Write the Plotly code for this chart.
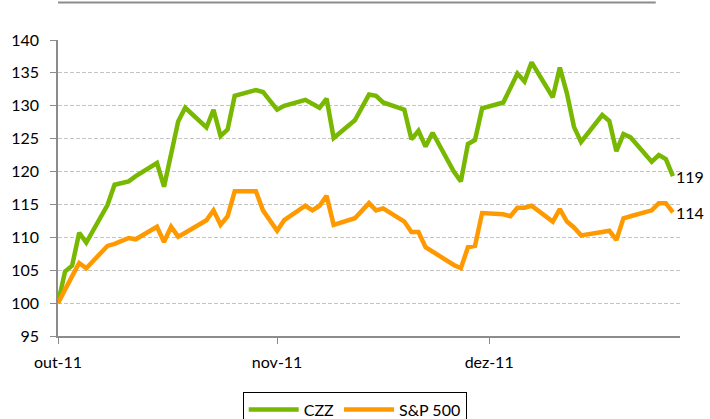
import plotly.graph_objects as go

# trading days (Brazilian calendar, Oct 3 - Dec 29 2011)
dates = [
    "2011-10-03", "2011-10-04", "2011-10-05", "2011-10-06", "2011-10-07",
    "2011-10-10", "2011-10-11", "2011-10-13", "2011-10-14",
    "2011-10-17", "2011-10-18", "2011-10-19", "2011-10-20", "2011-10-21",
    "2011-10-24", "2011-10-25", "2011-10-26", "2011-10-27", "2011-10-28",
    "2011-10-31", "2011-11-01", "2011-11-03", "2011-11-04",
    "2011-11-07", "2011-11-08", "2011-11-09", "2011-11-10", "2011-11-11",
    "2011-11-14", "2011-11-16", "2011-11-17", "2011-11-18",
    "2011-11-21", "2011-11-22", "2011-11-23", "2011-11-24", "2011-11-25",
    "2011-11-28", "2011-11-29", "2011-11-30", "2011-12-01", "2011-12-02",
    "2011-12-05", "2011-12-06", "2011-12-07", "2011-12-08", "2011-12-09",
    "2011-12-12", "2011-12-13", "2011-12-14", "2011-12-15", "2011-12-16",
    "2011-12-19", "2011-12-20", "2011-12-21", "2011-12-22", "2011-12-23",
    "2011-12-26", "2011-12-27", "2011-12-28", "2011-12-29",
]

czz = [
    100.0, 104.8, 105.7, 110.7, 109.2,
    114.9, 118.0, 118.5, 119.3,
    121.3, 117.7, 122.3, 127.6, 129.7,
    126.7, 129.4, 125.4, 126.4, 131.5,
    132.4, 132.1, 129.4, 130.0,
    130.9, 130.3, 129.7, 131.1, 125.1,
    127.8, 131.7, 131.5, 130.5,
    129.4, 124.9, 126.2, 123.8, 125.9,
    120.0, 118.5, 124.2, 124.8, 129.6,
    130.5, 132.7, 134.9, 133.7, 136.6,
    131.3, 135.8, 131.9, 126.8, 124.5,
    128.6, 127.7, 123.1, 125.7, 125.2,
    121.5, 122.5, 121.9, 119.3,
]

sp500 = [
    100.0, 102.2, 104.1, 106.1, 105.3,
    108.7, 109.0, 109.9, 109.7,
    111.6, 109.3, 111.6, 110.1, 110.7,
    112.6, 114.1, 111.9, 113.2, 117.0,
    117.0, 114.1, 111.0, 112.6,
    114.8, 114.1, 114.8, 116.3, 111.9,
    112.9, 115.2, 114.1, 114.4,
    112.4, 110.8, 110.8, 108.5, 107.8,
    105.8, 105.3, 108.5, 108.7, 113.7,
    113.5, 113.2, 114.5, 114.5, 114.8,
    112.4, 114.3, 112.4, 111.5, 110.3,
    110.8, 111.0, 109.6, 112.9, 113.2,
    114.1, 115.2, 115.2, 113.8,
]

tick_dates = ["2011-10-03", "2011-11-03", "2011-12-03"]
tick_labels = ["out-11", "nov-11", "dez-11"]

GREEN = "#78B800"
ORANGE = "#FF9900"
FONT = "Lato"

fig = go.Figure()
fig.add_trace(go.Scatter(x=dates, y=czz, name="CZZ", mode="lines",
                         line=dict(color=GREEN, width=4.5)))
fig.add_trace(go.Scatter(x=dates, y=sp500, name="S&P 500", mode="lines",
                         line=dict(color=ORANGE, width=4.5)))

# end-of-series value labels
for series in (czz, sp500):
    fig.add_annotation(x=dates[-1], y=series[-1], text=f"{round(series[-1])}",
                       showarrow=False, xanchor="left", yanchor="middle",
                       xshift=1, font=dict(family=FONT, size=16, color="#000"))

# thin rule across the top
fig.add_shape(type="line", xref="paper", yref="paper", x0=0, x1=0.961,
              y0=1.127, y1=1.127, line=dict(color="#8c8c8c", width=2))

fig.update_layout(
    width=710, height=419,
    margin=dict(l=58, r=30, t=40, b=83, autoexpand=False),
    paper_bgcolor="white", plot_bgcolor="white",
    font=dict(family=FONT, size=16, color="#000"),
    showlegend=True,
    legend=dict(orientation="h", x=0.477, xanchor="center", y=-0.188, yanchor="top",
                bordercolor="#000", borderwidth=1, bgcolor="white",
                font=dict(family=FONT, size=16), itemwidth=50),
    xaxis=dict(type="date", range=["2011-10-03", "2011-12-30"],
               tickvals=tick_dates, ticktext=tick_labels,
               showgrid=False, zeroline=False,
               showline=True, linecolor="#8c8c8c", linewidth=1.5,
               ticks="outside", ticklen=6, tickcolor="#8c8c8c",
               ticklabelstandoff=5),
    yaxis=dict(range=[95, 140], dtick=5, tick0=95,
               showgrid=True, gridcolor="#c4c4c4", griddash="4px,2px", gridwidth=1,
               zeroline=False,
               showline=True, linecolor="#8c8c8c", linewidth=1.5,
               ticks="outside", ticklen=6, tickcolor="#8c8c8c",
               ticklabelstandoff=8),
)

fig.write_html("out.html", config={"displayModeBar": False},
               post_script="document.body.style.margin='0';")
